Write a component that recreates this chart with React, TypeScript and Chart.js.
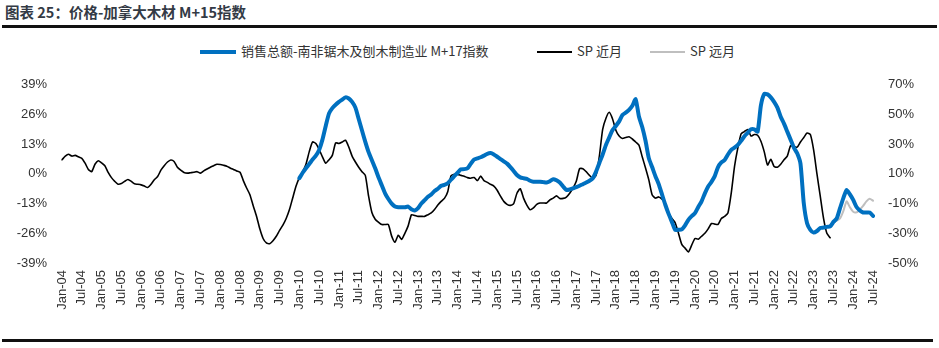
import React, { useEffect, useRef } from "react";
import { Chart, registerables } from "chart.js";

Chart.register(...registerables);

// ---- categories: monthly, Jan-04 .. Jul-24 ----
const MONTH_NAMES = ["Jan", "Feb", "Mar", "Apr", "May", "Jun", "Jul", "Aug", "Sep", "Oct", "Nov", "Dec"];
const FIRST_YEAR = 2004;
const MONTH_COUNT = 247;
const categories: string[] = Array.from({ length: MONTH_COUNT }, (_, i) => {
  const y = (FIRST_YEAR + Math.floor(i / 12)) % 100;
  return `${MONTH_NAMES[i % 12]}-${String(y).padStart(2, "0")}`;
});

// ---- series ----
// 销售总额-南非锯木及刨木制造业 M+17指数 (left axis, %), starts Jan-10
const SALES_START = 72;
const salesM17: number[] = [
  -1.9, 0.5, 2.5, 4.3, 6.3, 8, 10.5, 15, 21, 26.5,
  28.8, 30.3, 31.5, 32.5, 33.5, 33, 31.5, 29, 24, 19,
  14, 9.5, 6, 2.5, -1.5, -5, -8.5, -11, -13, -14.3,
  -14.6, -14.6, -14.6, -14.3, -15.5, -16, -15, -13, -11.5, -10,
  -9, -7.5, -6.5, -5.2, -4.8, -4.1, -2.5, -1, 0.5, 2,
  2.1, 2.5, 4.5, 6.3, 6.8, 7.3, 8, 8.8, 9.1, 8.5,
  7.5, 6.5, 5.5, 4.5, 3, 1.3, -0.5, -1.5, -1.9, -2.2,
  -3, -3.4, -3.4, -3.4, -3.6, -3.8, -3.2, -2.3, -2.8, -3.8,
  -5.5, -7, -6.8, -6.3, -5.8, -5.2, -4.5, -3.8, -3, -1.9,
  1, 4.8, 8.5, 12.7, 16, 19.2, 21, 23, 25.8, 26.8,
  28, 29.8, 32.7, 25.1, 20.5, 14.5, 6.9, 3, -1, -4.5,
  -9, -13.5, -17.5, -21, -24.5, -24.4, -24.3, -22.5, -20.1, -18.5,
  -17.2, -14.5, -12, -8.5, -5.5, -3.5, -1, 3, 5, 6.1,
  8.5, 10.5, 11.5, 12.7, 14.5, 16.5, 18, 19.5, 19.5, 18.5,
  30, 35, 34.8, 33.5, 31.5, 29, 25, 22, 18.5, 15,
  11.5, 9, 4.5, -12.8, -21.6, -24.5, -25.7, -25, -23.7, -23.5,
  -23.2, -23, -21, -19.5, -15, -10.6, -7, -9, -11.4, -14.5,
  -16, -16.9, -16.9, -16.9, -18.4,
];

// SP 近月 (right axis, %), Jan-04 .. Jun-23
const spNear: number[] = [
  19.5, 22, 23.2, 22, 22.5, 21.5, 20.5, 17.2, 13, 11.5,
  16.5, 18.9, 17.5, 15.5, 11, 7.5, 5, 3.1, 3.5, 5,
  6.2, 5, 3.3, 3, 2.6, 1.8, 0.8, 3, 6, 8.2,
  12.5, 15.5, 18, 19.4, 18.4, 14.5, 12.5, 11, 10.5, 10.8,
  11.1, 11.5, 10.5, 12, 13.3, 14.5, 15.5, 16.5, 16.3, 15.8,
  15.2, 14, 13, 12, 11.1, 5.5, 0.5, -4, -11.5, -18.5,
  -27, -33.5, -36.5, -37, -35, -32, -28, -24.5, -20, -14,
  -6, 1.8, 7.5, 11.5, 16.5, 25, 31.5, 30.5, 26.5, 21.5,
  17.2, 19.5, 22.5, 30.9, 30.5, 31.5, 32.7, 28, 22, 18,
  14.5, 11.5, 9, -5, -16, -20.5, -22.5, -24.1, -24.1, -24.1,
  -31.9, -36, -31.3, -34.1, -30, -25, -17.5, -18, -18.6, -18.6,
  -18.6, -17.5, -16.3, -14, -11, -8.5, -6.5, -2, 8.7, 9.8,
  9.7, 9, 8.4, 7.5, 7.1, 7.6, 5.5, 8.5, 5.5, 4.3,
  3, 1.8, -1, -5, -8.5, -10.5, -11.2, -10, -3, 0,
  -6.3, -11, -14.1, -12.9, -10.5, -9.6, -9.6, -9.6, -7.5, -6.3,
  -4.8, -6.5, -6.5, -5.6, -3, 0.4, 5, 13.5, 13.5, 11.5,
  9, 7.1, 9, 22, 40, 47.5, 51.5, 47, 39.4, 35.5,
  33.9, 34.5, 35, 33.5, 31.5, 29.4, 21.5, 14, 6, -4,
  -6.3, -5.5, -7, -9.6, -16, -20, -23, -30, -37.5, -40,
  -42.6, -38, -33.5, -34, -32, -30, -27, -23.4, -23.8, -24,
  -20, -18.6, -16.3, -3, 15, 27.5, 37, 38.5, 39.9, 35.5,
  36.5, 36, 32, 25, 16, 19.8, 15, 14.5, 16.5, 19.5,
  22, 29, 28.5, 28, 31.5, 34.5, 37.5, 36.5, 26, 10,
  -5, -20, -30, -33,
];

// SP 远月 (right axis, %), May-23 .. Jul-24
const SP_FAR_START = 232;
const spFar: number[] = [
  -25.5, -24.5, -22.5, -21.5, -20, -15, -8.5, -12.5, -15.5, -15.9,
  -14, -11.5, -8.5, -6.7, -8,
];

const leftTicks = { min: -39, max: 39, step: 13 };
const rightTicks = { min: -50, max: 70, step: 20 };

const pad = (start: number, arr: number[]) => {
  const out: (number | null)[] = Array(MONTH_COUNT).fill(null);
  arr.forEach((v, i) => {
    out[start + i] = v;
  });
  return out;
};

const TICK_FONT = { family: "'Liberation Sans', Arial, sans-serif", size: 13 };
const TEXT_COLOR = "#333333";
const BLUE = "#0070C0";
const BLACK = "#000000";
const GRAY = "#BFBFBF";

function LumberChart() {
  const ref = useRef<HTMLCanvasElement | null>(null);
  useEffect(() => {
    if (!ref.current) return;
    const chart = new Chart(ref.current, {
      type: "line",
      data: {
        labels: categories,
        datasets: [
          {
            label: "SP 远月",
            data: pad(SP_FAR_START, spFar),
            borderColor: GRAY,
            borderWidth: 2,
            yAxisID: "yR",
            order: 3,
          },
          {
            label: "SP 近月",
            data: pad(0, spNear),
            borderColor: BLACK,
            borderWidth: 1.6,
            yAxisID: "yR",
            order: 2,
          },
          {
            label: "销售总额-南非锯木及刨木制造业 M+17指数",
            data: pad(SALES_START, salesM17),
            borderColor: BLUE,
            borderWidth: 4,
            yAxisID: "yL",
            order: 1,
          },
        ],
      },
      options: {
        animation: false,
        responsive: false,
        maintainAspectRatio: false,
        layout: { padding: { top: 6, bottom: 0, left: 0, right: 0 } },
        plugins: { legend: { display: false }, tooltip: { enabled: false } },
        elements: {
          point: { radius: 0 },
          line: { tension: 0.2, borderCapStyle: "round", borderJoinStyle: "round" },
        },
        scales: {
          x: {
            type: "category",
            grid: { display: false, drawTicks: false },
            border: { display: false },
            ticks: {
              autoSkip: false,
              maxRotation: 90,
              minRotation: 90,
              padding: 7,
              font: TICK_FONT,
              color: TEXT_COLOR,
              callback: (_v: any, i: number) => (i % 6 === 0 ? categories[i] : ""),
            },
            afterFit: (s: any) => {
              s.height = 67;
            },
          },
          yL: {
            position: "left",
            min: leftTicks.min,
            max: leftTicks.max,
            grid: { display: false, drawTicks: false },
            border: { display: false },
            ticks: {
              stepSize: leftTicks.step,
              padding: 15,
              font: TICK_FONT,
              color: TEXT_COLOR,
              callback: (v: any) => `${v}%`,
            },
            afterFit: (s: any) => {
              s.width = 62;
            },
          },
          yR: {
            position: "right",
            min: rightTicks.min,
            max: rightTicks.max,
            grid: { display: false, drawTicks: false },
            border: { display: false },
            ticks: {
              stepSize: rightTicks.step,
              padding: 15,
              font: TICK_FONT,
              color: TEXT_COLOR,
              callback: (v: any) => `${v}%`,
            },
            afterFit: (s: any) => {
              s.width = 66;
            },
          },
        },
      },
    } as any);
    return () => chart.destroy();
  }, []);
  return (
    <canvas
      ref={ref}
      width={939}
      height={268}
      style={{ position: "absolute", left: 0, top: 62, width: 939, height: 268 }}
    />
  );
}

const CJK = "'Noto Sans CJK SC', 'Liberation Sans', sans-serif";

export default function App() {
  const legendText: React.CSSProperties = {
    position: "absolute",
    top: 42,
    fontFamily: CJK,
    fontSize: 13,
    lineHeight: "18px",
    color: TEXT_COLOR,
    whiteSpace: "nowrap",
  };
  return (
    <div style={{ position: "absolute", left: 0, top: 0, width: 939, height: 348, background: "#fff", overflow: "hidden" }}>
      <LumberChart />

      <div
        style={{
          position: "absolute",
          left: 5,
          top: 2,
          fontFamily: CJK,
          fontWeight: 700,
          fontSize: 14.5,
          lineHeight: "20px",
          color: "#333a45",
          whiteSpace: "nowrap",
        }}
      >
        图表 25：价格-加拿大木材 M+15指数
      </div>
      <div style={{ position: "absolute", left: 2, top: 25, width: 935, height: 3, background: "#111" }} />

      <div style={{ position: "absolute", left: 200, top: 50, width: 36, height: 4, background: BLUE }} />
      <div style={{ ...legendText, left: 241 }}>销售总额-南非锯木及刨木制造业 M+17指数</div>
      <div style={{ position: "absolute", left: 537, top: 51, width: 35, height: 2, background: BLACK }} />
      <div style={{ ...legendText, left: 577 }}>SP 近月</div>
      <div style={{ position: "absolute", left: 650, top: 51, width: 35, height: 2, background: GRAY }} />
      <div style={{ ...legendText, left: 690 }}>SP 远月</div>

      <div style={{ position: "absolute", left: 2, top: 339, width: 931, height: 3, background: "#111" }} />
    </div>
  );
}
